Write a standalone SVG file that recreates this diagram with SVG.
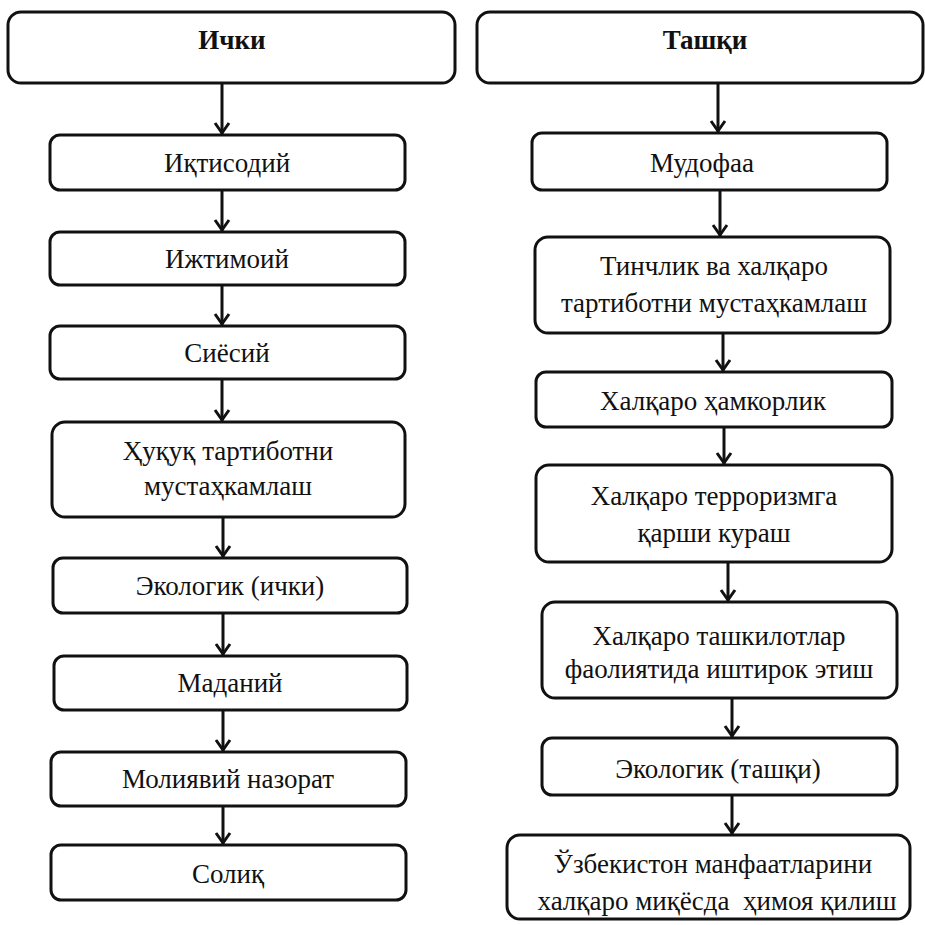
<svg xmlns="http://www.w3.org/2000/svg" width="925" height="925" viewBox="0 0 925 925">
<defs>
<marker id="arr" markerUnits="userSpaceOnUse" markerWidth="30" markerHeight="30" refX="0" refY="0" orient="auto" overflow="visible">
<path d="M-11,-7 L-1,0 L-11,7" fill="none" stroke="#111" stroke-width="3" stroke-linejoin="miter"/>
</marker>
</defs>
<style>
.box{fill:#fff;stroke:#111;stroke-width:3}
.t{font-family:"Liberation Serif","Times New Roman",serif;font-size:27px;fill:#111;text-anchor:middle}
.b{font-weight:bold}
.c{stroke:#111;stroke-width:3;fill:none;marker-end:url(#arr)}
</style>
<rect width="925" height="925" fill="#fff"/>
<g id="connectors">
<line class="c" x1="222" y1="83" x2="222" y2="134"/>
<line class="c" x1="222" y1="190" x2="222" y2="231"/>
<line class="c" x1="222" y1="285" x2="222" y2="325"/>
<line class="c" x1="222" y1="379" x2="222" y2="421"/>
<line class="c" x1="223" y1="517" x2="223" y2="557"/>
<line class="c" x1="223" y1="613" x2="223" y2="655"/>
<line class="c" x1="223" y1="710" x2="223" y2="751"/>
<line class="c" x1="223" y1="806" x2="223" y2="844"/>
<line class="c" x1="718" y1="83" x2="718" y2="132"/>
<line class="c" x1="720" y1="190" x2="720" y2="236"/>
<line class="c" x1="723" y1="333" x2="723" y2="371"/>
<line class="c" x1="724" y1="427" x2="724" y2="464"/>
<line class="c" x1="728" y1="562" x2="728" y2="601"/>
<line class="c" x1="732" y1="698" x2="732" y2="737"/>
<line class="c" x1="732" y1="795" x2="732" y2="834"/>
</g>
<g id="n-ichki"><rect class="box" x="8" y="12" width="447" height="71" rx="13"/><text class="t b" x="232" y="49">Ички</text></g>
<g id="n-iqtisodiy"><rect class="box" x="50" y="135" width="355" height="55" rx="10"/><text class="t" x="227" y="172">Иқтисодий</text></g>
<g id="n-ijtimoiy"><rect class="box" x="50" y="232" width="355" height="53" rx="10"/><text class="t" x="227" y="268">Ижтимоий</text></g>
<g id="n-siyosiy"><rect class="box" x="50" y="326" width="355" height="53" rx="10"/><text class="t" x="227" y="362">Сиёсий</text></g>
<g id="n-huquq"><rect class="box" x="52" y="422" width="353" height="95" rx="13"/><text class="t" x="228" y="460">Ҳуқуқ тартиботни</text><text class="t" x="228" y="495">мустаҳкамлаш</text></g>
<g id="n-ekologik-ichki"><rect class="box" x="53" y="558" width="354" height="55" rx="10"/><text class="t" x="230" y="595">Экологик (ички)</text></g>
<g id="n-madaniy"><rect class="box" x="54" y="656" width="353" height="54" rx="10"/><text class="t" x="230" y="692">Маданий</text></g>
<g id="n-moliyaviy"><rect class="box" x="51" y="752" width="355" height="54" rx="10"/><text class="t" x="228" y="788">Молиявий назорат</text></g>
<g id="n-soliq"><rect class="box" x="51" y="845" width="355" height="55" rx="10"/><text class="t" x="228" y="883">Солиқ</text></g>
<g id="n-tashqi"><rect class="box" x="477" y="12" width="446" height="71" rx="13"/><text class="t b" x="705" y="49">Ташқи</text></g>
<g id="n-mudofaa"><rect class="box" x="532" y="133" width="355" height="57" rx="10"/><text class="t" x="702" y="172">Мудофаа</text></g>
<g id="n-tinchlik"><rect class="box" x="535" y="237" width="355" height="96" rx="13"/><text class="t" x="714" y="275">Тинчлик ва халқаро</text><text class="t" x="714" y="312">тартиботни мустаҳкамлаш</text></g>
<g id="n-hamkorlik"><rect class="box" x="536" y="372" width="356" height="55" rx="10"/><text class="t" x="713" y="410">Халқаро ҳамкорлик</text></g>
<g id="n-terrorizm"><rect class="box" x="536" y="465" width="356" height="97" rx="13"/><text class="t" x="714" y="505">Халқаро терроризмга</text><text class="t" x="714" y="542">қарши кураш</text></g>
<g id="n-tashkilotlar"><rect class="box" x="542" y="602" width="355" height="96" rx="13"/><text class="t" x="719" y="645">Халқаро ташкилотлар</text><text class="t" x="719" y="678">фаолиятида иштирок этиш</text></g>
<g id="n-ekologik-tashqi"><rect class="box" x="542" y="738" width="355" height="57" rx="10"/><text class="t" x="718" y="778">Экологик (ташқи)</text></g>
<g id="n-manfaat"><rect class="box" x="507" y="835" width="403" height="84" rx="13"/><text class="t" x="713" y="873">Ўзбекистон манфаатларини</text><text class="t" x="717" y="910" xml:space="preserve">халқаро миқёсда  ҳимоя қилиш</text></g>
</svg>
